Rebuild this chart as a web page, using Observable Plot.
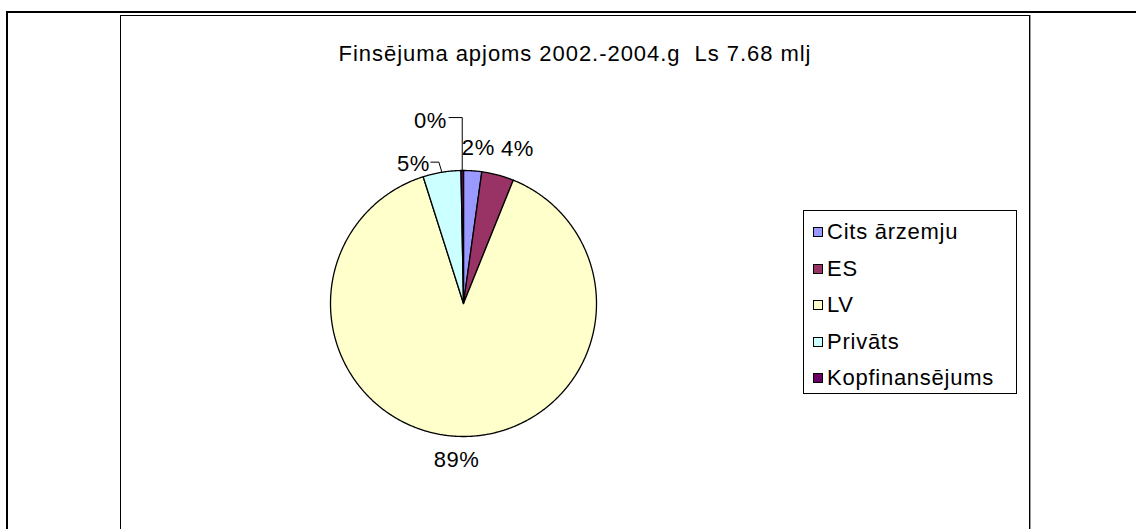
<!DOCTYPE html>
<html>
<head>
<meta charset="utf-8">
<script src="https://cdn.jsdelivr.net/npm/d3@7"></script>
<script src="https://cdn.jsdelivr.net/npm/@observablehq/plot@0.6"></script>
<style>
  html, body { margin: 0; padding: 0; background: #fff; }
  #page { position: relative; width: 1136px; height: 529px; overflow: hidden; font-family: "Liberation Sans", Arial, sans-serif; color: #000; }
  #outer { position: absolute; left: 6px; top: 11px; width: 1300px; height: 700px; border-top: 2px solid #000; border-left: 2px solid #000; }
  #frame { position: absolute; left: 120px; top: 15px; width: 910px; height: 700px; box-sizing: border-box; border: 1px solid #000; box-shadow: 1px 0 0 #9a9a9a; background: #fff; }
  #chart { position: absolute; left: 0; top: 0; }
  #chart svg { display: block; background: none; }
  #title { position: absolute; left: 120px; top: 43px; width: 910px; text-align: center; font-size: 22px; line-height: 22px; letter-spacing: 0.95px; white-space: pre; }
  #legend { position: absolute; left: 803px; top: 210px; width: 214px; height: 184px; box-sizing: border-box; border: 1px solid #000; padding-top: 3px; background: #fff; }
  .row { display: flex; align-items: center; height: 36.5px; font-size: 22px; line-height: 36.5px; letter-spacing: 0.75px; white-space: pre; }
  .sw { width: 10px; height: 10px; box-sizing: border-box; border: 1px solid #000; margin-left: 9px; margin-right: 4px; flex: none; }
</style>
</head>
<body>
<div id="page">
  <div id="outer"></div>
  <div id="frame"></div>
  <div id="chart"></div>
  <div id="title"></div>
  <div id="legend"></div>
</div>
<script>
// ---- data ----
const categories = ["Cits ārzemju", "ES", "LV", "Privāts", "Kopfinansējums"];
const values = [2.2, 3.9, 89.0, 4.6, 0.3];
const colors = ["#9999FF", "#993366", "#FFFFCC", "#CCFFFF", "#660066"];
const titleText = "Finsējuma apjoms 2002.-2004.g  Ls 7.68 mlj";

// ---- layout (pixels) ----
const CX = 463, CY = 303, R = 133;
const labelRadius = 1.18;
const labelNudge = {
  "Cits ārzemju": [4, 1.5],
  "ES": [13.5, -3.4],
  "LV": [-1, 0],
  "Privāts": [-24.5, 15],
  "Kopfinansējums": [-31.5, -26]
};

const table = categories.map((c, i) => ({category: c, value: values[i]}));
const total = d3.sum(values);
const arcs = d3.pie().sort(null).value(d => d.value).startAngle(0).endAngle(2 * Math.PI)(table);

// slice polygons in data space (unit circle, y up)
const slicePts = [];
for (const a of arcs) {
  const cat = a.data.category;
  slicePts.push({category: cat, x: 0, y: 0});
  const n = Math.max(2, Math.ceil((a.endAngle - a.startAngle) / (Math.PI / 360)));
  for (let k = 0; k <= n; k++) {
    const t = a.startAngle + (a.endAngle - a.startAngle) * k / n;
    slicePts.push({category: cat, x: Math.sin(t), y: Math.cos(t)});
  }
}

// helpers between pixel and data space
const toPx = (x, y) => [CX + x * R, CY - y * R];
const toData = (px, py) => ({x: (px - CX) / R, y: (CY - py) / R});

const labels = arcs.map(a => {
  const mid = (a.startAngle + a.endAngle) / 2;
  const [bx, by] = toPx(labelRadius * Math.sin(mid), labelRadius * Math.cos(mid));
  const [nx, ny] = labelNudge[a.data.category];
  const [ex, ey] = toPx(Math.sin(mid), Math.cos(mid));
  return {
    category: a.data.category,
    text: Math.round(a.data.value / total * 100) + "%",
    ...toData(bx + nx, by + ny),
    lx: bx + nx, ly: by + ny, ex, ey
  };
});

// leader lines for the moved labels
const leaders = [];
{
  const k = labels.find(d => d.category === "Kopfinansējums");
  [[k.ex, k.ey], [k.ex, k.ly - 3], [k.lx + 18, k.ly - 3]].forEach(([px, py]) => leaders.push({category: k.category, ...toData(px, py)}));
  const p = labels.find(d => d.category === "Privāts");
  [[p.ex, p.ey], [p.ex - 3, p.ly - 1.5], [p.lx + 17, p.ly - 1.5]].forEach(([px, py]) => leaders.push({category: p.category, ...toData(px, py)}));
}

const chart = Plot.plot({
  width: 1136,
  height: 529,
  margin: 0,
  x: {domain: [-1, 1], range: [CX - R, CX + R], axis: null},
  y: {domain: [-1, 1], range: [CY + R, CY - R], axis: null},
  color: {domain: categories, range: colors},
  style: {background: "none", fontFamily: "'Liberation Sans', Arial, sans-serif", fontSize: "22px", letterSpacing: "0.6px", color: "#000"},
  marks: [
    Plot.line(slicePts, {x: "x", y: "y", z: "category", fill: "category", stroke: "#000", strokeWidth: 1.3, curve: "linear-closed", strokeLinejoin: "round"}),
    Plot.line(leaders, {x: "x", y: "y", z: "category", stroke: "#000", strokeWidth: 1, strokeLinecap: "butt"}),
    Plot.text(labels, {x: "x", y: "y", text: "text", fill: "#000", fontSize: 22})
  ]
});
document.getElementById("chart").appendChild(chart);

document.getElementById("title").textContent = titleText;

const color = chart.scale("color");
const legend = document.getElementById("legend");
for (const c of categories) {
  const row = document.createElement("div");
  row.className = "row";
  const sw = document.createElement("span");
  sw.className = "sw";
  sw.style.background = color.apply(c);
  const lab = document.createElement("span");
  lab.textContent = c;
  row.appendChild(sw);
  row.appendChild(lab);
  legend.appendChild(row);
}
</script>
</body>
</html>
